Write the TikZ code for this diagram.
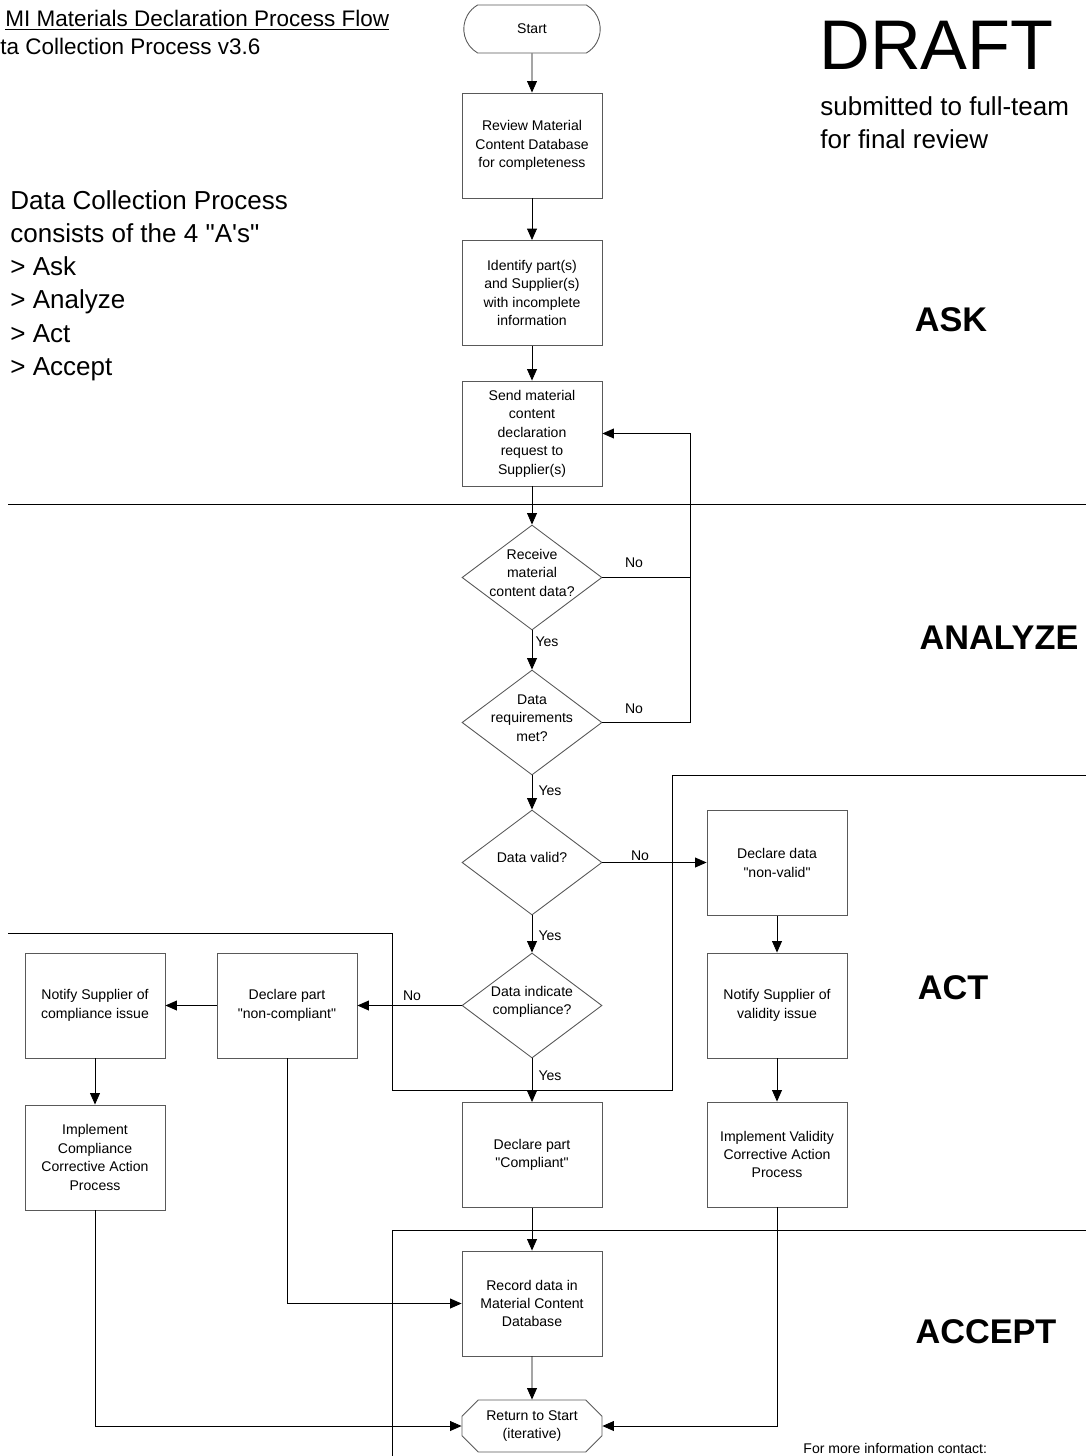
\documentclass[tikz,border=0pt]{standalone}
\usepackage{fontspec}
\setmainfont{Liberation Sans}[Ligatures=TeXOff]
\usetikzlibrary{shapes.geometric,shapes.misc,arrows.meta}

\newcommand{\dtext}[1]{\raisebox{0pt}[0pt][0pt]{\begin{tabular}{@{}c@{}}#1\end{tabular}}}

\begin{document}
\begin{tikzpicture}[x=.02cm,y=-.02cm,line width=.5pt,
  >={Triangle[length=6.5pt,width=5.6pt]},
  every node/.style={font=\fontsize{8}{10.5}\selectfont},
  process/.style={draw=black!65,rectangle,minimum width=2.8cm,minimum height=2.1cm,align=center,inner sep=1pt},
  decision/.style={draw=black!65,diamond,minimum width=2.8cm,minimum height=2.1cm,inner sep=0pt},
  terminal/.style={draw=black!65,rounded rectangle,rounded rectangle arc length=120,minimum width=2.8cm,minimum height=.96cm,inner sep=1pt},
  stopper/.style={draw=black!65,chamfered rectangle,chamfered rectangle xsep=.2cm,minimum width=2.8cm,minimum height=1.04cm,inner sep=1pt,align=center},
  phase/.style={font=\fontsize{19.5}{22}\selectfont\bfseries},
  note/.style={font=\fontsize{14.8}{18.9}\selectfont,align=left,inner sep=0pt}]

\useasboundingbox (0,0) rectangle (1086,1456);

\node[anchor=base west,inner sep=0pt,font=\fontsize{12.8}{16}\selectfont] (T1) at (5,27) {\underline{MI Materials Declaration Process Flow}};
\node[anchor=base west,inner sep=0pt,font=\fontsize{12.8}{16}\selectfont] (T2) at (0,55) {ta Collection Process v3.6};
\node[anchor=base west,inner sep=0pt,font=\fontsize{40}{45}\selectfont] (Dft) at (819,70) {DRAFT};
\node[note,anchor=north west] (Sub) at (820,96) {submitted to full-team\\for final review};
\node[note,anchor=north west] (As) at (10,190) {Data Collection Process\\consists of the 4 "A's"\\> Ask\\> Analyze\\> Act\\> Accept};

\node[phase] (Ask) at (951,320) {ASK};
\node[phase] (Anl) at (999,638) {ANALYZE};
\node[phase] (Act) at (953,988) {ACT};
\node[phase] (Acc) at (986,1332) {ACCEPT};
\node[anchor=base west,inner sep=0pt] (Ct) at (803,1453) {For more information contact:};

\node[terminal] (St) at (532,29) {Start};
\node[process] (Rv) at (532,145.5) {Review Material\\Content Database\\for completeness};
\node[process] (Id) at (532,293) {Identify part(s)\\and Supplier(s)\\with incomplete\\information};
\node[process] (Sd) at (532,433.5) {Send material\\content\\declaration\\request to\\Supplier(s)};
\node[decision] (Dr) at (532,577.5) {\dtext{Receive\\material\\content data?}};
\node[decision] (Dm) at (532,722.5) {\dtext{Data\\requirements\\met?}};
\node[decision] (Dv) at (532,862.5) {\dtext{Data valid?}};
\node[decision] (Dc) at (532,1005.5) {\dtext{Data indicate\\compliance?}};
\node[process] (Pc) at (532,1155) {Declare part\\"Compliant"};
\node[process] (Rc) at (532,1303.5) {Record data in\\Material Content\\Database};
\node[stopper] (Rt) at (532,1426) {Return to Start\\(iterative)};

\node[process] (Vd) at (777,863) {Declare data\\"non-valid"};
\node[process] (Vn) at (777,1005.5) {Notify Supplier of\\validity issue};
\node[process] (Vi) at (777,1154.5) {Implement Validity\\Corrective Action\\Process};

\node[process] (Cd) at (287,1005.5) {Declare part\\"non-compliant"};
\node[process] (Cn) at (95,1005.5) {Notify Supplier of\\compliance issue};
\node[process] (Ci) at (95,1157.5) {Implement\\Compliance\\Corrective Action\\Process};

\coordinate (Fb) at (690,433.5);

\draw (8,504) -- (1086,504);
\draw (8,933) -- (392,933) -- (392,1090) -- (672,1090) -- (672,775) -- (1086,775);
\draw (392,1456) -- (392,1230) -- (1086,1230);

\draw[->] (St) -- (Rv);
\draw[->] (Rv) -- (Id);
\draw[->] (Id) -- (Sd);
\draw[->] (Sd) -- (Dr);
\draw[->] (Dr) -- (Dm);
\draw[->] (Dm) -- (Dv);
\draw[->] (Dv) -- (Dc);
\draw[->] (Dc) -- (Pc);
\draw[->] (Pc) -- (Rc);
\draw[->] (Rc) -- (Rt);
\draw[->] (Dr.east) -| (Fb) -- (Sd.east);
\draw (Dm.east) -| (Dr.east -| Fb);
\draw[->] (Dv.east) -- (Dv.east -| Vd.west);
\draw[->] (Vd) -- (Vn);
\draw[->] (Vn) -- (Vi);
\draw[->] (Dc.west) -- (Cd.east);
\draw[->] (Cd) -- (Cn);
\draw[->] (Cn) -- (Ci);
\draw[->] (Vi.south) |- (Rt.east);
\draw[->] (Ci.south) |- (Rt.west);
\draw[->] (Cd.south) |- (Rc.west);

\node (N1) at (634,563) {No};
\node (N2) at (634,709) {No};
\node (N3) at (640,856) {No};
\node (N4) at (412,996) {No};
\node (Y1) at (547,642) {Yes};
\node (Y2) at (550,791) {Yes};
\node (Y3) at (550,936) {Yes};
\node (Y4) at (550,1076) {Yes};

\end{tikzpicture}
\end{document}
